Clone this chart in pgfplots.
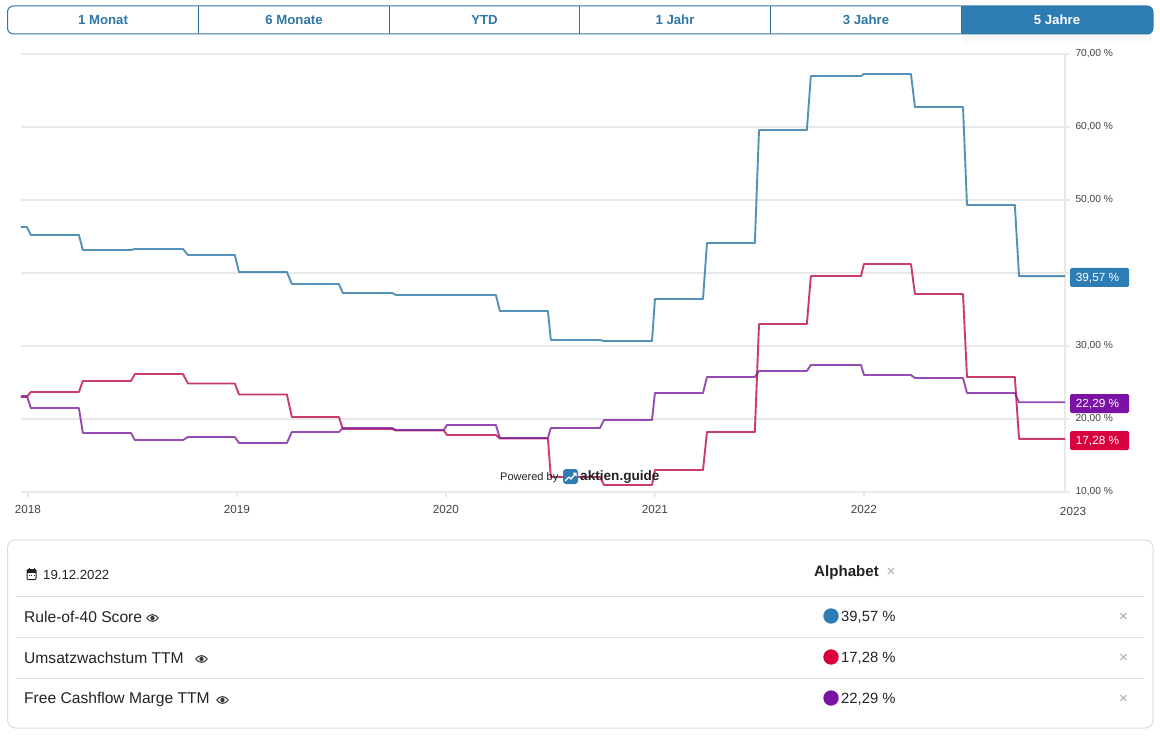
\documentclass[border=0pt]{standalone}
\usepackage{pgfplots}
\usepackage{pgfplotstable}
\usepackage{fontspec}
\setmainfont{Liberation Sans}
\pgfplotsset{compat=1.18}
\definecolor{cblue}{HTML}{2E7CB4}
\definecolor{cred}{HTML}{D8003F}
\definecolor{cpurple}{HTML}{7A12A6}
\definecolor{lblue}{HTML}{357FAB}
\definecolor{lred}{HTML}{BE1A50}
\definecolor{lpurple}{HTML}{7A1FA0}
\definecolor{cgrid}{HTML}{E9E9E9}
\definecolor{cbtn}{HTML}{2F76A4}
\definecolor{ctxt}{HTML}{222222}
\newcommand{\fs}[1]{\fontsize{#1}{#1}\selectfont}
\pgfplotstableread{
x b r p
2017.967 46.30 23.01 23.15
2017.995 46.30 23.01 23.15
2018.014 45.21 23.70 21.51
2018.244 45.21 23.70 21.51
2018.263 43.15 25.21 18.08
2018.493 43.15 25.21 18.08
2018.512 43.29 26.16 17.12
2018.742 43.29 26.16 17.12
2018.766 42.47 24.86 17.53
2018.990 42.47 24.86 17.53
2019.010 40.14 23.36 16.71
2019.239 40.14 23.36 16.71
2019.263 38.49 20.27 18.22
2019.488 38.49 20.27 18.22
2019.507 37.26 18.63 18.77
2019.742 37.26 18.63 18.77
2019.761 36.99 18.42 18.49
2019.990 36.99 18.42 18.49
2020.005 36.99 17.81 19.18
2020.239 36.99 17.81 19.18
2020.258 34.79 17.33 17.40
2020.488 34.79 17.33 17.40
2020.502 30.82 12.05 18.77
2020.737 30.82 12.05 18.77
2020.756 30.68 10.96 19.86
2020.986 30.68 10.96 19.86
2021.000 36.44 13.01 23.56
2021.230 36.44 13.01 23.56
2021.249 44.11 18.22 25.75
2021.478 44.11 18.22 25.75
2021.498 59.59 33.01 26.58
2021.727 59.59 33.01 26.58
2021.746 66.99 39.59 27.40
2021.986 66.99 39.59 27.40
2022.000 67.26 41.23 26.03
2022.225 67.26 41.23 26.03
2022.244 62.74 37.12 25.62
2022.474 62.74 37.12 25.62
2022.493 49.32 25.75 23.56
2022.722 49.32 25.75 23.56
2022.742 39.57 17.28 22.29
2022.962 39.57 17.28 22.29
}\rof
\newcommand{\eye}[2]{%
  \begin{scope}[shift={(#1,#2)}]
    \fill[ctxt!90] (-6.5,0) .. controls (-3,-5.2) and (3,-5.2) .. (6.5,0) .. controls (3,5.2) and (-3,5.2) .. (-6.5,0) -- cycle;
    \fill[white] (-4.8,0) .. controls (-2.4,-3.6) and (2.4,-3.6) .. (4.8,0) .. controls (2.4,3.6) and (-2.4,3.6) .. (-4.8,0) -- cycle;
    \fill[ctxt!90] (0,0) circle (2.2);
  \end{scope}}
\begin{document}
\begin{tikzpicture}
\begin{scope}[x=1pt,y=-1pt]
\useasboundingbox (0,0) rectangle (1160,738);
\foreach \yy in {54,127,200,273,346,419} \draw[cgrid, line width=1.1pt] (21,\yy) -- (1070,\yy);
\draw[cgrid, line width=1.8pt] (21,492) -- (1070,492);
\draw[cgrid, line width=1.6pt] (1065,54) -- (1065,492);
\foreach \xx in {28,237,446,655,864} \draw[cgrid, line width=1.1pt] (\xx,492) -- (\xx,497);
\end{scope}
\begin{axis}[
  at={(21pt,-492pt)}, anchor=south west,
  scale only axis, width=1044pt, height=438pt,
  xmin=2017.967, xmax=2022.962, ymin=10, ymax=70,
  axis line style={draw=none},
  separate axis lines,
  x axis line style={draw=none}, y axis line style={draw=none},
  xtick pos=bottom, ytick pos=right,
  xtick={2018,2019,2020,2021,2022},
  xticklabels={2018,2019,2020,2021,2022},
  ytick={10,20,30,40,50,60,70},
  yticklabels={{10,00 \%},{20,00 \%},{30,00 \%},{40,00 \%},{50,00 \%},{60,00 \%},{70,00 \%}},
  major tick length=0pt, tick style={draw=none},
  xticklabel style={font=\fs{11.7}, text=ctxt!85, yshift=-10pt},
  yticklabel style={font=\fs{10.2}, text=ctxt!85, anchor=west, xshift=7pt, yshift=0pt},
  clip=false,
]
\addplot[lblue, opacity=.85, line width=1.9pt, line join=round] table[x=x,y=b] {\rof};
\addplot[lred, opacity=.85, line width=1.9pt, line join=round] table[x=x,y=r] {\rof};
\addplot[lpurple, opacity=.8, line width=1.9pt, line join=round] table[x=x,y=p] {\rof};
\end{axis}
\begin{scope}[x=1pt,y=-1pt]
% 2023 label
\node[font=\fs{11.7}, text=ctxt!85] at (1073,511.5) {2023};
% shadow under active button
\shade[top color=black!4, bottom color=white, draw=none] (963,34) rectangle (1151,46);
% buttons
\begin{scope}
\clip[rounded corners=6pt] (7.5,6) rectangle (1153,34);
\fill[cblue] (961,6) rectangle (1153,34);
\end{scope}
\draw[cbtn, line width=1pt, rounded corners=6pt] (7.5,6) rectangle (1153,34);
\foreach \xx in {198.5,389.5,579.5,770.5,961} \draw[cbtn, line width=1pt] (\xx,6) -- (\xx,34);
\foreach \cx/\t in {103/1 Monat,294/6 Monate,484.5/YTD,675/1 Jahr,866/3 Jahre}
  \node[font=\fs{13.2}\bfseries, text=cbtn] at (\cx,20) {\t};
\node[font=\fs{13.2}\bfseries, text=white] at (1057,20) {5 Jahre};
% badges
\foreach \yy/\cc/\t in {277.5/cblue/{39,57 \%},403.5/cpurple/{22,29 \%},440.5/cred/{17,28 \%}}{
  \fill[\cc, rounded corners=1.5pt] (1070,\yy-9.5) rectangle (1129,\yy+9.5);
  \node[font=\fs{11.8}, text=white] at (1097.5,\yy+0.5) {\t};
}
% watermark
\node[font=\fs{11}, text=ctxt, anchor=west, inner sep=0pt] at (500,478) {Powered by};
\fill[cblue, rounded corners=3pt] (563,469) rectangle (578,484);
\draw[white, line width=1.3pt, line join=round] (565,481) -- (569,477) -- (571,479) -- (575.5,473.5);
\fill[white] (572.5,472.5) -- (576.5,472.5) -- (576.5,476.5) -- cycle;
\node[font=\fs{13.6}\bfseries, text=ctxt, anchor=west, inner sep=0pt] at (580,477) {aktien.guide};
% card
\draw[black!14, line width=1pt, rounded corners=8pt] (7.5,540) rectangle (1153,728);
\foreach \yy in {596.5,637.5,678.5} \draw[black!12, line width=1pt] (16,\yy) -- (1144,\yy);
% calendar icon
\draw[ctxt, line width=1pt, rounded corners=1pt] (27,569.5) rectangle (36,579.5);
\fill[ctxt] (27,569.5) rectangle (36,572.5);
\draw[ctxt, line width=1pt] (29,568) -- (29,570) (34,568) -- (34,570);
\draw[ctxt, line width=.8pt, dotted] (28.5,575.5) -- (35,575.5);
\node[font=\fs{13.2}, text=ctxt, anchor=west, inner sep=0pt] at (43,574.5) {19.12.2022};
\node[font=\fs{15.1}\bfseries, text=ctxt, anchor=west, inner sep=0pt] at (814,572.5) {Alphabet};
\node[font=\fs{15}, text=black!35] at (891,572.5) {×};
\foreach \yy/\t/\ex in {617/{Rule-of-40 Score}/152.5,658/{Umsatzwachstum TTM}/201.5,699/{Free Cashflow Marge TTM}/222.5}{
  \node[font=\fs{15.6}, text=ctxt, anchor=west, inner sep=0pt] at (24,\yy) {\t};
  \eye{\ex}{\yy+1}
  \node[font=\fs{15}, text=black!35] at (1123.5,\yy+0.5) {×};
}
\foreach \yy/\cc/\t in {616/cblue/{39,57 \%},657/cred/{17,28 \%},698/cpurple/{22,29 \%}}{
  \fill[\cc] (831,\yy) circle (7.7);
  \node[font=\fs{14.8}, text=ctxt, anchor=west, inner sep=0pt] at (841,\yy+1) {\t};
}
\end{scope}
\end{tikzpicture}
\end{document}
